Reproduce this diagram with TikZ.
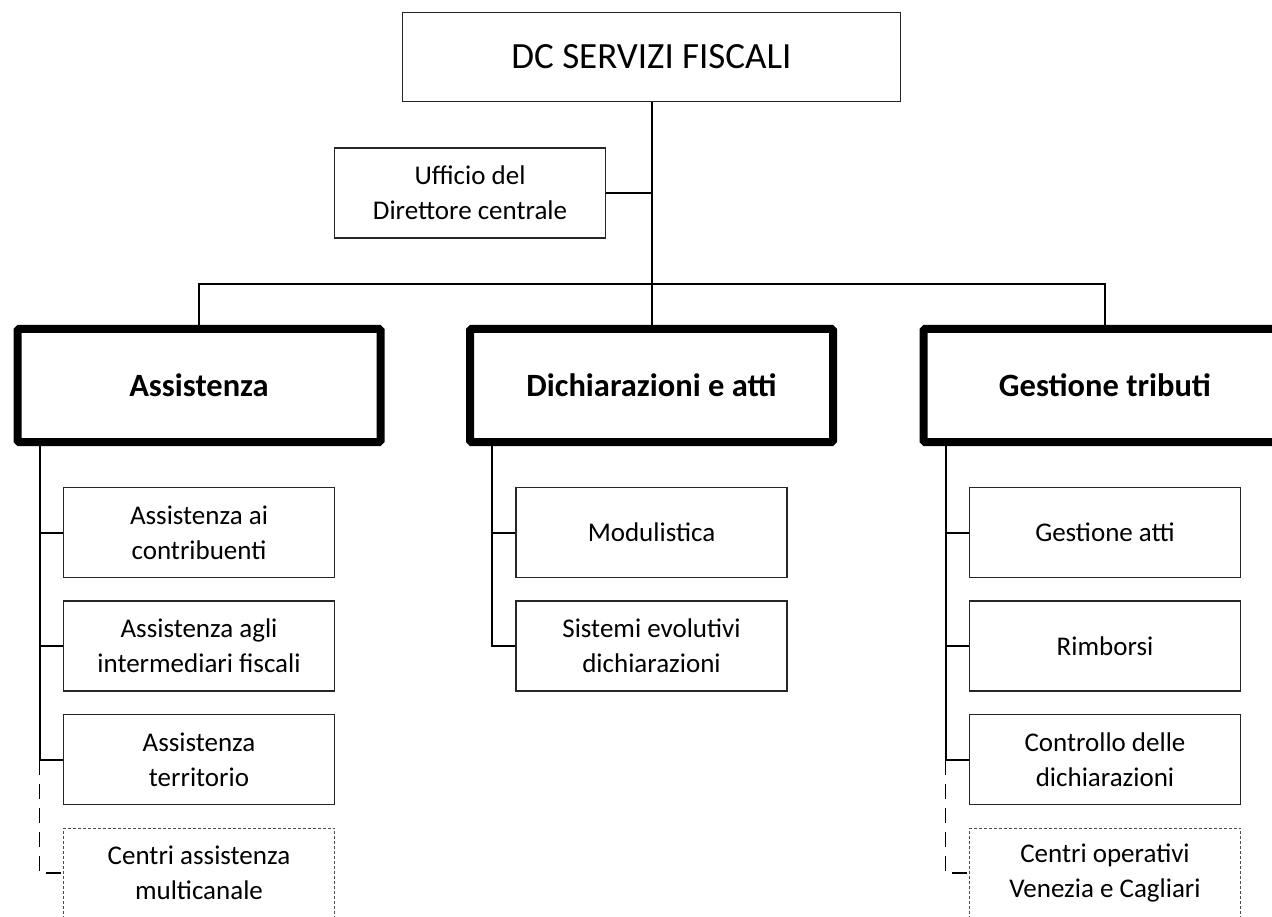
\documentclass[tikz,border=0pt]{standalone}
\usepackage{fontspec}
\setmainfont{Carlito}
\usepackage{tikz}
\usetikzlibrary{positioning}
\tikzset{unit/.style={draw=black!85,line width=1.3pt,align=center,inner sep=0pt,
    minimum width=271pt,minimum height=90pt,font=\fontsize{27}{35}\selectfont}}
\tikzset{lateunit/.style={unit,draw=black!70,line width=1pt,dash pattern=on 3pt off 2pt}}
\tikzset{area/.style={draw,line width=8pt,rounded corners=1.5pt,align=center,inner sep=0pt,
    minimum width=363pt,minimum height=113pt,font=\bfseries\fontsize{32.5}{39}\selectfont}}
\tikzset{head/.style={draw=black!85,line width=1.3pt,inner sep=0pt,
    minimum width=498pt,minimum height=89pt,font=\fontsize{37}{45}\selectfont}}
\tikzset{link/.style={line width=2pt}}
\tikzset{latelink/.style={line width=1.5pt,dash pattern=on 15pt off 9pt}}

\begin{document}
\begin{tikzpicture}[x=1pt,y=1pt,on grid,node distance=113.5pt]
        \useasboundingbox (0,-917) rectangle (1272,0);
        \clip (0,-917) rectangle (1272,0);
        \node[head](dc) at (651.5,-57){DC SERVIZI FISCALI};
        \node[unit](uff)[below left=136pt and 181.5pt of dc]{Ufficio del\\Direttore centrale};
        \node[area](dich)[below=328.5pt of dc]{Dichiarazioni e atti};
        \node[area](ass)[left=452.5pt of dich]{Assistenza};
        \node[area](gest)[right=453.5pt of dich]{Gestione tributi};
        \coordinate[below=182pt of dc.south](hub);
        % assistenza
        \node[unit](a1)[below=147pt of ass]{Assistenza ai\\contribuenti};
        \node[unit](a2)[below=of a1]{Assistenza agli\\intermediari fiscali};
        \node[unit](a3)[below=of a2]{Assistenza\\territorio};
        \node[lateunit](a4)[below=of a3]{Centri assistenza\\multicanale};
        % dichiarazioni
        \node[unit](d1)[below=147pt of dich]{Modulistica};
        \node[unit](d2)[below=of d1]{Sistemi evolutivi\\dichiarazioni};
        % gestione
        \node[unit](g1)[below=147pt of gest]{Gestione atti};
        \node[unit](g2)[below=of g1]{Rimborsi};
        \node[unit](g3)[below=of g2]{Controllo delle\\dichiarazioni};
        \node[lateunit](g4)[below=of g3]{Centri operativi\\Venezia e Cagliari};
        \coordinate(ass-t) at ([xshift=26pt]ass.south west);
        \coordinate(dich-t) at ([xshift=26pt]dich.south west);
        \coordinate(gest-t) at ([xshift=26pt]gest.south west);
        \draw[link] (dc) -- (hub) -- (dich);
        \draw[link] (uff.east) -- (uff.east -| hub);
        \draw[link] (ass.north) |- (hub) -| (gest.north);
        \foreach \c in {a1,a2,a3} \draw[link] (ass-t) |- (\c.west);
        \foreach \c in {d1,d2} \draw[link] (dich-t) |- (\c.west);
        \foreach \c in {g1,g2,g3} \draw[link] (gest-t) |- (\c.west);
        \draw[latelink] (ass-t |- a3.west) |- (a4.west);
        \draw[latelink] (gest-t |- g3.west) |- (g4.west);
      \end{tikzpicture}
\end{document}
